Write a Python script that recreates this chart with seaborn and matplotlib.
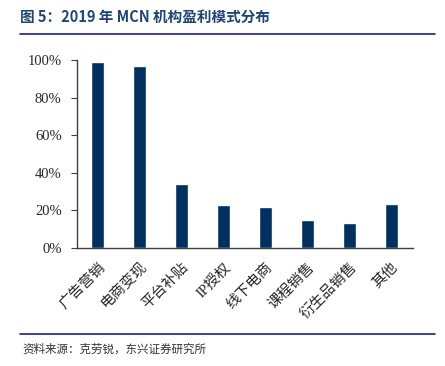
import matplotlib.pyplot as plt
import matplotlib.ticker as mticker
import pandas as pd
import seaborn as sns

# Data
categories = ["广告营销", "电商变现", "平台补贴", "IP授权", "线下电商", "课程销售", "衍生品销售", "其他"]
shares = [0.99, 0.97, 0.34, 0.23, 0.215, 0.145, 0.13, 0.235]
y_ticks = [0, 0.2, 0.4, 0.6, 0.8, 1.0]

df = pd.DataFrame({"模式": categories, "占比": shares})

sns.set_style("white")
plt.rcParams["font.family"] = ["Liberation Serif", "Noto Sans CJK SC", "DejaVu Sans"]

fig = plt.figure(figsize=(4.45, 3.66), dpi=100)
ax = fig.add_axes([0.173, 0.3232, 0.754, 0.513])

sns.barplot(data=df, x="模式", y="占比", color="#00305F", width=0.31,
            saturation=1, ax=ax)

ax.set_xlim(-0.5, 7.5)
ax.set_ylim(0, 1.0)
ax.set_yticks(y_ticks)
ax.yaxis.set_major_formatter(mticker.FuncFormatter(lambda v, p: f"{v * 100:.0f}%"))
ax.set_xlabel("")
ax.set_ylabel("")

for side in ["top", "right"]:
    ax.spines[side].set_visible(False)
for side in ["left", "bottom"]:
    ax.spines[side].set_color("#404040")
    ax.spines[side].set_linewidth(1.0)

ax.tick_params(axis="y", direction="out", length=4, width=0.8, color="#404040",
               labelsize=10.5, pad=7, left=True)
ax.tick_params(axis="x", length=0, labelsize=10.5, pad=9)
for lbl in ax.get_xticklabels() + ax.get_yticklabels():
    lbl.set_fontfamily(["Liberation Serif", "Noto Sans CJK SC"])
for lbl in ax.get_xticklabels():
    lbl.set_rotation(45)
    lbl.set_ha("right")
    lbl.set_rotation_mode("anchor")

# Title and framing lines
fig.text(20 / 445, 1 - 17 / 366, "图 5：2019 年 MCN 机构盈利模式分布", fontsize=10.5,
         fontweight="bold", color="#1F4577", va="center", ha="left",
         family=["Noto Sans CJK SC", "DejaVu Sans"])
fig.add_artist(plt.Line2D([20 / 445, 435 / 445], [1 - 34 / 366, 1 - 34 / 366],
                          color="#1A237E", linewidth=1.2))
fig.add_artist(plt.Line2D([20 / 445, 435 / 445], [1 - 334 / 366, 1 - 334 / 366],
                          color="#1A237E", linewidth=1.2))
fig.text(22 / 445, 1 - 349 / 366, "资料来源：克劳锐，东兴证券研究所", fontsize=8.3,
         style="italic", color="#333333", va="center", ha="left",
         family=["Noto Sans CJK SC", "DejaVu Sans"])

fig.savefig("out.png", dpi=100)
